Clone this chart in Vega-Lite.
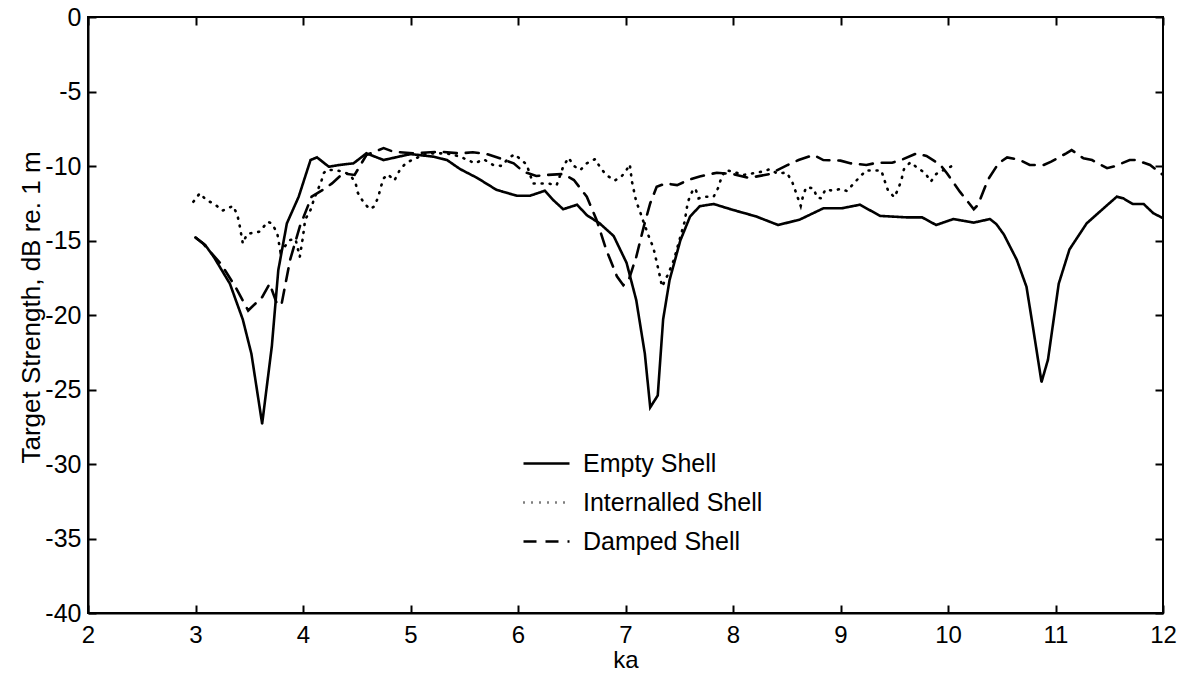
{
  "$schema": "https://vega.github.io/schema/vega-lite/v6.json",
  "autosize": {"type": "none"},
  "padding": {"left": 88, "top": 17, "right": 24, "bottom": 62},
  "width": 1075,
  "height": 596,
  "background": "white",
  "config": {
    "font": "Liberation Sans",
    "view": {"stroke": "black", "strokeWidth": 2},
    "axis": {"labelFont": "Liberation Sans", "titleFont": "Liberation Sans", "labelColor": "black", "titleColor": "black", "domainColor": "black", "tickColor": "black", "grid": false}
  },
  "datasets": {
    "curves": [
      {"ka": 3.0, "ts": -14.8, "s": "Empty Shell"},
      {"ka": 3.09, "ts": -15.3, "s": "Empty Shell"},
      {"ka": 3.17, "ts": -16.1, "s": "Empty Shell"},
      {"ka": 3.32, "ts": -17.9, "s": "Empty Shell"},
      {"ka": 3.44, "ts": -20.3, "s": "Empty Shell"},
      {"ka": 3.52, "ts": -22.6, "s": "Empty Shell"},
      {"ka": 3.62, "ts": -27.3, "s": "Empty Shell"},
      {"ka": 3.71, "ts": -22.1, "s": "Empty Shell"},
      {"ka": 3.77, "ts": -17.0, "s": "Empty Shell"},
      {"ka": 3.85, "ts": -13.85, "s": "Empty Shell"},
      {"ka": 3.96, "ts": -12.06, "s": "Empty Shell"},
      {"ka": 4.07, "ts": -9.6, "s": "Empty Shell"},
      {"ka": 4.13, "ts": -9.42, "s": "Empty Shell"},
      {"ka": 4.24, "ts": -10.05, "s": "Empty Shell"},
      {"ka": 4.34, "ts": -9.93, "s": "Empty Shell"},
      {"ka": 4.47, "ts": -9.82, "s": "Empty Shell"},
      {"ka": 4.59, "ts": -9.15, "s": "Empty Shell"},
      {"ka": 4.75, "ts": -9.6, "s": "Empty Shell"},
      {"ka": 5.0, "ts": -9.2, "s": "Empty Shell"},
      {"ka": 5.21, "ts": -9.37, "s": "Empty Shell"},
      {"ka": 5.34, "ts": -9.6, "s": "Empty Shell"},
      {"ka": 5.46, "ts": -10.2, "s": "Empty Shell"},
      {"ka": 5.62, "ts": -10.8, "s": "Empty Shell"},
      {"ka": 5.8, "ts": -11.6, "s": "Empty Shell"},
      {"ka": 5.99, "ts": -12.0, "s": "Empty Shell"},
      {"ka": 6.11, "ts": -12.0, "s": "Empty Shell"},
      {"ka": 6.25, "ts": -11.66, "s": "Empty Shell"},
      {"ka": 6.33, "ts": -12.3, "s": "Empty Shell"},
      {"ka": 6.42, "ts": -12.9, "s": "Empty Shell"},
      {"ka": 6.55, "ts": -12.6, "s": "Empty Shell"},
      {"ka": 6.64, "ts": -13.3, "s": "Empty Shell"},
      {"ka": 6.76, "ts": -13.85, "s": "Empty Shell"},
      {"ka": 6.89, "ts": -14.7, "s": "Empty Shell"},
      {"ka": 7.01, "ts": -16.5, "s": "Empty Shell"},
      {"ka": 7.1, "ts": -19.0, "s": "Empty Shell"},
      {"ka": 7.18, "ts": -22.6, "s": "Empty Shell"},
      {"ka": 7.23, "ts": -26.2, "s": "Empty Shell"},
      {"ka": 7.3, "ts": -25.4, "s": "Empty Shell"},
      {"ka": 7.35, "ts": -20.3, "s": "Empty Shell"},
      {"ka": 7.41, "ts": -17.65, "s": "Empty Shell"},
      {"ka": 7.51, "ts": -15.0, "s": "Empty Shell"},
      {"ka": 7.6, "ts": -13.4, "s": "Empty Shell"},
      {"ka": 7.69, "ts": -12.7, "s": "Empty Shell"},
      {"ka": 7.82, "ts": -12.55, "s": "Empty Shell"},
      {"ka": 8.0, "ts": -12.95, "s": "Empty Shell"},
      {"ka": 8.1, "ts": -13.15, "s": "Empty Shell"},
      {"ka": 8.22, "ts": -13.4, "s": "Empty Shell"},
      {"ka": 8.42, "ts": -13.96, "s": "Empty Shell"},
      {"ka": 8.62, "ts": -13.6, "s": "Empty Shell"},
      {"ka": 8.84, "ts": -12.84, "s": "Empty Shell"},
      {"ka": 9.01, "ts": -12.84, "s": "Empty Shell"},
      {"ka": 9.18, "ts": -12.6, "s": "Empty Shell"},
      {"ka": 9.37, "ts": -13.35, "s": "Empty Shell"},
      {"ka": 9.62, "ts": -13.45, "s": "Empty Shell"},
      {"ka": 9.76, "ts": -13.45, "s": "Empty Shell"},
      {"ka": 9.89, "ts": -13.96, "s": "Empty Shell"},
      {"ka": 10.05, "ts": -13.56, "s": "Empty Shell"},
      {"ka": 10.24, "ts": -13.8, "s": "Empty Shell"},
      {"ka": 10.39, "ts": -13.56, "s": "Empty Shell"},
      {"ka": 10.45, "ts": -13.9, "s": "Empty Shell"},
      {"ka": 10.52, "ts": -14.6, "s": "Empty Shell"},
      {"ka": 10.64, "ts": -16.3, "s": "Empty Shell"},
      {"ka": 10.73, "ts": -18.1, "s": "Empty Shell"},
      {"ka": 10.79, "ts": -20.8, "s": "Empty Shell"},
      {"ka": 10.87, "ts": -24.5, "s": "Empty Shell"},
      {"ka": 10.93, "ts": -23.0, "s": "Empty Shell"},
      {"ka": 11.03, "ts": -17.9, "s": "Empty Shell"},
      {"ka": 11.13, "ts": -15.6, "s": "Empty Shell"},
      {"ka": 11.29, "ts": -13.85, "s": "Empty Shell"},
      {"ka": 11.43, "ts": -12.95, "s": "Empty Shell"},
      {"ka": 11.57, "ts": -12.06, "s": "Empty Shell"},
      {"ka": 11.63, "ts": -12.17, "s": "Empty Shell"},
      {"ka": 11.72, "ts": -12.55, "s": "Empty Shell"},
      {"ka": 11.82, "ts": -12.55, "s": "Empty Shell"},
      {"ka": 11.91, "ts": -13.17, "s": "Empty Shell"},
      {"ka": 12.0, "ts": -13.5, "s": "Empty Shell"},

      {"ka": 2.98, "ts": -12.4, "s": "Internalled Shell"},
      {"ka": 3.04, "ts": -11.83, "s": "Internalled Shell"},
      {"ka": 3.1, "ts": -12.28, "s": "Internalled Shell"},
      {"ka": 3.18, "ts": -12.57, "s": "Internalled Shell"},
      {"ka": 3.25, "ts": -13.0, "s": "Internalled Shell"},
      {"ka": 3.35, "ts": -12.68, "s": "Internalled Shell"},
      {"ka": 3.39, "ts": -13.3, "s": "Internalled Shell"},
      {"ka": 3.41, "ts": -13.96, "s": "Internalled Shell"},
      {"ka": 3.44, "ts": -15.2, "s": "Internalled Shell"},
      {"ka": 3.48, "ts": -14.56, "s": "Internalled Shell"},
      {"ka": 3.6, "ts": -14.4, "s": "Internalled Shell"},
      {"ka": 3.67, "ts": -13.74, "s": "Internalled Shell"},
      {"ka": 3.71, "ts": -13.85, "s": "Internalled Shell"},
      {"ka": 3.76, "ts": -14.5, "s": "Internalled Shell"},
      {"ka": 3.79, "ts": -15.75, "s": "Internalled Shell"},
      {"ka": 3.83, "ts": -15.4, "s": "Internalled Shell"},
      {"ka": 3.88, "ts": -14.97, "s": "Internalled Shell"},
      {"ka": 3.93, "ts": -14.9, "s": "Internalled Shell"},
      {"ka": 3.97, "ts": -16.1, "s": "Internalled Shell"},
      {"ka": 4.0, "ts": -14.74, "s": "Internalled Shell"},
      {"ka": 4.02, "ts": -13.6, "s": "Internalled Shell"},
      {"ka": 4.07, "ts": -12.95, "s": "Internalled Shell"},
      {"ka": 4.1, "ts": -12.28, "s": "Internalled Shell"},
      {"ka": 4.13, "ts": -11.72, "s": "Internalled Shell"},
      {"ka": 4.17, "ts": -11.05, "s": "Internalled Shell"},
      {"ka": 4.19, "ts": -10.5, "s": "Internalled Shell"},
      {"ka": 4.22, "ts": -10.27, "s": "Internalled Shell"},
      {"ka": 4.3, "ts": -10.27, "s": "Internalled Shell"},
      {"ka": 4.37, "ts": -10.38, "s": "Internalled Shell"},
      {"ka": 4.44, "ts": -10.6, "s": "Internalled Shell"},
      {"ka": 4.49, "ts": -11.17, "s": "Internalled Shell"},
      {"ka": 4.51, "ts": -11.8, "s": "Internalled Shell"},
      {"ka": 4.56, "ts": -12.4, "s": "Internalled Shell"},
      {"ka": 4.62, "ts": -12.9, "s": "Internalled Shell"},
      {"ka": 4.66, "ts": -12.73, "s": "Internalled Shell"},
      {"ka": 4.7, "ts": -12.1, "s": "Internalled Shell"},
      {"ka": 4.72, "ts": -11.5, "s": "Internalled Shell"},
      {"ka": 4.75, "ts": -10.83, "s": "Internalled Shell"},
      {"ka": 4.79, "ts": -10.56, "s": "Internalled Shell"},
      {"ka": 4.85, "ts": -10.98, "s": "Internalled Shell"},
      {"ka": 4.9, "ts": -10.27, "s": "Internalled Shell"},
      {"ka": 4.96, "ts": -9.78, "s": "Internalled Shell"},
      {"ka": 5.03, "ts": -9.55, "s": "Internalled Shell"},
      {"ka": 5.15, "ts": -9.15, "s": "Internalled Shell"},
      {"ka": 5.34, "ts": -9.15, "s": "Internalled Shell"},
      {"ka": 5.46, "ts": -9.37, "s": "Internalled Shell"},
      {"ka": 5.6, "ts": -9.82, "s": "Internalled Shell"},
      {"ka": 5.68, "ts": -9.55, "s": "Internalled Shell"},
      {"ka": 5.77, "ts": -9.93, "s": "Internalled Shell"},
      {"ka": 5.85, "ts": -10.0, "s": "Internalled Shell"},
      {"ka": 5.91, "ts": -9.48, "s": "Internalled Shell"},
      {"ka": 5.97, "ts": -9.21, "s": "Internalled Shell"},
      {"ka": 6.03, "ts": -9.6, "s": "Internalled Shell"},
      {"ka": 6.08, "ts": -9.89, "s": "Internalled Shell"},
      {"ka": 6.14, "ts": -11.17, "s": "Internalled Shell"},
      {"ka": 6.22, "ts": -11.17, "s": "Internalled Shell"},
      {"ka": 6.28, "ts": -11.17, "s": "Internalled Shell"},
      {"ka": 6.36, "ts": -11.28, "s": "Internalled Shell"},
      {"ka": 6.42, "ts": -10.05, "s": "Internalled Shell"},
      {"ka": 6.47, "ts": -9.44, "s": "Internalled Shell"},
      {"ka": 6.52, "ts": -10.0, "s": "Internalled Shell"},
      {"ka": 6.58, "ts": -10.27, "s": "Internalled Shell"},
      {"ka": 6.64, "ts": -9.82, "s": "Internalled Shell"},
      {"ka": 6.72, "ts": -9.53, "s": "Internalled Shell"},
      {"ka": 6.76, "ts": -10.05, "s": "Internalled Shell"},
      {"ka": 6.82, "ts": -10.6, "s": "Internalled Shell"},
      {"ka": 6.9, "ts": -10.98, "s": "Internalled Shell"},
      {"ka": 6.96, "ts": -10.72, "s": "Internalled Shell"},
      {"ka": 7.0, "ts": -10.38, "s": "Internalled Shell"},
      {"ka": 7.04, "ts": -9.89, "s": "Internalled Shell"},
      {"ka": 7.06, "ts": -11.05, "s": "Internalled Shell"},
      {"ka": 7.08, "ts": -11.72, "s": "Internalled Shell"},
      {"ka": 7.1, "ts": -12.4, "s": "Internalled Shell"},
      {"ka": 7.13, "ts": -12.95, "s": "Internalled Shell"},
      {"ka": 7.16, "ts": -13.6, "s": "Internalled Shell"},
      {"ka": 7.22, "ts": -14.79, "s": "Internalled Shell"},
      {"ka": 7.26, "ts": -15.5, "s": "Internalled Shell"},
      {"ka": 7.3, "ts": -16.76, "s": "Internalled Shell"},
      {"ka": 7.32, "ts": -17.4, "s": "Internalled Shell"},
      {"ka": 7.34, "ts": -18.1, "s": "Internalled Shell"},
      {"ka": 7.4, "ts": -17.2, "s": "Internalled Shell"},
      {"ka": 7.45, "ts": -16.3, "s": "Internalled Shell"},
      {"ka": 7.55, "ts": -13.74, "s": "Internalled Shell"},
      {"ka": 7.58, "ts": -12.4, "s": "Internalled Shell"},
      {"ka": 7.62, "ts": -11.72, "s": "Internalled Shell"},
      {"ka": 7.65, "ts": -11.5, "s": "Internalled Shell"},
      {"ka": 7.68, "ts": -12.17, "s": "Internalled Shell"},
      {"ka": 7.74, "ts": -12.06, "s": "Internalled Shell"},
      {"ka": 7.82, "ts": -12.06, "s": "Internalled Shell"},
      {"ka": 7.86, "ts": -11.5, "s": "Internalled Shell"},
      {"ka": 7.89, "ts": -10.83, "s": "Internalled Shell"},
      {"ka": 7.93, "ts": -10.27, "s": "Internalled Shell"},
      {"ka": 8.0, "ts": -10.38, "s": "Internalled Shell"},
      {"ka": 8.1, "ts": -10.6, "s": "Internalled Shell"},
      {"ka": 8.27, "ts": -10.38, "s": "Internalled Shell"},
      {"ka": 8.34, "ts": -10.22, "s": "Internalled Shell"},
      {"ka": 8.41, "ts": -10.49, "s": "Internalled Shell"},
      {"ka": 8.5, "ts": -10.45, "s": "Internalled Shell"},
      {"ka": 8.55, "ts": -11.05, "s": "Internalled Shell"},
      {"ka": 8.58, "ts": -11.66, "s": "Internalled Shell"},
      {"ka": 8.61, "ts": -12.28, "s": "Internalled Shell"},
      {"ka": 8.63, "ts": -12.68, "s": "Internalled Shell"},
      {"ka": 8.65, "ts": -12.06, "s": "Internalled Shell"},
      {"ka": 8.68, "ts": -11.43, "s": "Internalled Shell"},
      {"ka": 8.75, "ts": -11.5, "s": "Internalled Shell"},
      {"ka": 8.78, "ts": -12.1, "s": "Internalled Shell"},
      {"ka": 8.82, "ts": -12.17, "s": "Internalled Shell"},
      {"ka": 8.86, "ts": -11.57, "s": "Internalled Shell"},
      {"ka": 8.93, "ts": -11.66, "s": "Internalled Shell"},
      {"ka": 9.0, "ts": -11.54, "s": "Internalled Shell"},
      {"ka": 9.06, "ts": -11.68, "s": "Internalled Shell"},
      {"ka": 9.12, "ts": -11.2, "s": "Internalled Shell"},
      {"ka": 9.18, "ts": -10.72, "s": "Internalled Shell"},
      {"ka": 9.24, "ts": -10.3, "s": "Internalled Shell"},
      {"ka": 9.38, "ts": -10.3, "s": "Internalled Shell"},
      {"ka": 9.41, "ts": -10.98, "s": "Internalled Shell"},
      {"ka": 9.44, "ts": -11.6, "s": "Internalled Shell"},
      {"ka": 9.5, "ts": -12.1, "s": "Internalled Shell"},
      {"ka": 9.54, "ts": -11.5, "s": "Internalled Shell"},
      {"ka": 9.57, "ts": -10.83, "s": "Internalled Shell"},
      {"ka": 9.59, "ts": -10.22, "s": "Internalled Shell"},
      {"ka": 9.65, "ts": -9.75, "s": "Internalled Shell"},
      {"ka": 9.71, "ts": -10.09, "s": "Internalled Shell"},
      {"ka": 9.79, "ts": -10.49, "s": "Internalled Shell"},
      {"ka": 9.84, "ts": -11.05, "s": "Internalled Shell"},
      {"ka": 9.89, "ts": -10.54, "s": "Internalled Shell"},
      {"ka": 9.97, "ts": -10.22, "s": "Internalled Shell"},
      {"ka": 10.06, "ts": -9.93, "s": "Internalled Shell"},

      {"ka": 3.0, "ts": -14.8, "s": "Damped Shell"},
      {"ka": 3.07, "ts": -15.2, "s": "Damped Shell"},
      {"ka": 3.24, "ts": -16.6, "s": "Damped Shell"},
      {"ka": 3.37, "ts": -18.1, "s": "Damped Shell"},
      {"ka": 3.49, "ts": -19.7, "s": "Damped Shell"},
      {"ka": 3.62, "ts": -18.8, "s": "Damped Shell"},
      {"ka": 3.69, "ts": -17.9, "s": "Damped Shell"},
      {"ka": 3.76, "ts": -19.3, "s": "Damped Shell"},
      {"ka": 3.8, "ts": -19.3, "s": "Damped Shell"},
      {"ka": 3.88, "ts": -16.3, "s": "Damped Shell"},
      {"ka": 3.97, "ts": -14.07, "s": "Damped Shell"},
      {"ka": 4.08, "ts": -12.06, "s": "Damped Shell"},
      {"ka": 4.19, "ts": -11.57, "s": "Damped Shell"},
      {"ka": 4.27, "ts": -11.17, "s": "Damped Shell"},
      {"ka": 4.37, "ts": -10.5, "s": "Damped Shell"},
      {"ka": 4.48, "ts": -10.6, "s": "Damped Shell"},
      {"ka": 4.59, "ts": -9.26, "s": "Damped Shell"},
      {"ka": 4.75, "ts": -8.8, "s": "Damped Shell"},
      {"ka": 4.84, "ts": -9.04, "s": "Damped Shell"},
      {"ka": 5.03, "ts": -9.15, "s": "Damped Shell"},
      {"ka": 5.27, "ts": -9.04, "s": "Damped Shell"},
      {"ka": 5.46, "ts": -9.15, "s": "Damped Shell"},
      {"ka": 5.58, "ts": -9.08, "s": "Damped Shell"},
      {"ka": 5.71, "ts": -9.2, "s": "Damped Shell"},
      {"ka": 5.83, "ts": -9.48, "s": "Damped Shell"},
      {"ka": 5.96, "ts": -9.82, "s": "Damped Shell"},
      {"ka": 6.05, "ts": -10.38, "s": "Damped Shell"},
      {"ka": 6.17, "ts": -10.67, "s": "Damped Shell"},
      {"ka": 6.27, "ts": -10.6, "s": "Damped Shell"},
      {"ka": 6.42, "ts": -10.54, "s": "Damped Shell"},
      {"ka": 6.52, "ts": -10.94, "s": "Damped Shell"},
      {"ka": 6.64, "ts": -12.06, "s": "Damped Shell"},
      {"ka": 6.73, "ts": -13.6, "s": "Damped Shell"},
      {"ka": 6.82, "ts": -15.6, "s": "Damped Shell"},
      {"ka": 6.92, "ts": -17.4, "s": "Damped Shell"},
      {"ka": 6.98, "ts": -18.0, "s": "Damped Shell"},
      {"ka": 7.03, "ts": -17.65, "s": "Damped Shell"},
      {"ka": 7.1, "ts": -16.1, "s": "Damped Shell"},
      {"ka": 7.17, "ts": -14.07, "s": "Damped Shell"},
      {"ka": 7.23, "ts": -12.5, "s": "Damped Shell"},
      {"ka": 7.29, "ts": -11.4, "s": "Damped Shell"},
      {"ka": 7.37, "ts": -11.17, "s": "Damped Shell"},
      {"ka": 7.48, "ts": -11.28, "s": "Damped Shell"},
      {"ka": 7.6, "ts": -10.9, "s": "Damped Shell"},
      {"ka": 7.69, "ts": -10.7, "s": "Damped Shell"},
      {"ka": 7.85, "ts": -10.45, "s": "Damped Shell"},
      {"ka": 8.0, "ts": -10.54, "s": "Damped Shell"},
      {"ka": 8.15, "ts": -10.8, "s": "Damped Shell"},
      {"ka": 8.34, "ts": -10.54, "s": "Damped Shell"},
      {"ka": 8.51, "ts": -9.93, "s": "Damped Shell"},
      {"ka": 8.61, "ts": -9.6, "s": "Damped Shell"},
      {"ka": 8.75, "ts": -9.26, "s": "Damped Shell"},
      {"ka": 8.84, "ts": -9.6, "s": "Damped Shell"},
      {"ka": 9.0, "ts": -9.64, "s": "Damped Shell"},
      {"ka": 9.09, "ts": -9.82, "s": "Damped Shell"},
      {"ka": 9.24, "ts": -9.93, "s": "Damped Shell"},
      {"ka": 9.34, "ts": -9.78, "s": "Damped Shell"},
      {"ka": 9.48, "ts": -9.78, "s": "Damped Shell"},
      {"ka": 9.58, "ts": -9.55, "s": "Damped Shell"},
      {"ka": 9.71, "ts": -9.15, "s": "Damped Shell"},
      {"ka": 9.8, "ts": -9.33, "s": "Damped Shell"},
      {"ka": 9.93, "ts": -9.93, "s": "Damped Shell"},
      {"ka": 9.99, "ts": -10.49, "s": "Damped Shell"},
      {"ka": 10.11, "ts": -11.72, "s": "Damped Shell"},
      {"ka": 10.24, "ts": -12.9, "s": "Damped Shell"},
      {"ka": 10.28, "ts": -12.6, "s": "Damped Shell"},
      {"ka": 10.37, "ts": -10.94, "s": "Damped Shell"},
      {"ka": 10.47, "ts": -9.82, "s": "Damped Shell"},
      {"ka": 10.55, "ts": -9.42, "s": "Damped Shell"},
      {"ka": 10.67, "ts": -9.6, "s": "Damped Shell"},
      {"ka": 10.76, "ts": -9.93, "s": "Damped Shell"},
      {"ka": 10.89, "ts": -9.93, "s": "Damped Shell"},
      {"ka": 10.96, "ts": -9.71, "s": "Damped Shell"},
      {"ka": 11.1, "ts": -9.15, "s": "Damped Shell"},
      {"ka": 11.15, "ts": -8.93, "s": "Damped Shell"},
      {"ka": 11.26, "ts": -9.48, "s": "Damped Shell"},
      {"ka": 11.34, "ts": -9.6, "s": "Damped Shell"},
      {"ka": 11.48, "ts": -10.15, "s": "Damped Shell"},
      {"ka": 11.54, "ts": -10.04, "s": "Damped Shell"},
      {"ka": 11.69, "ts": -9.6, "s": "Damped Shell"},
      {"ka": 11.75, "ts": -9.6, "s": "Damped Shell"},
      {"ka": 11.88, "ts": -9.93, "s": "Damped Shell"},
      {"ka": 11.96, "ts": -10.38, "s": "Damped Shell"},
      {"ka": 12.0, "ts": -10.6, "s": "Damped Shell"}
    ]
  },
  "data": {"name": "curves"},
  "resolve": {"axis": {"x": "independent", "y": "independent"}},
  "layer": [
    {
      "mark": {"type": "line", "color": "black", "strokeWidth": 2.6, "strokeCap": "round", "clip": true},
      "encoding": {
        "x": {"field": "ka", "type": "quantitative", "scale": {"domain": [2, 12], "nice": false, "zero": false},
          "axis": {"title": "ka", "values": [2,3,4,5,6,7,8,9,10,11,12], "labelExpr": "'' + datum.value", "labelFontSize": 24, "titleFontSize": 24, "titleFontWeight": "normal", "tickSize": -8, "tickWidth": 2, "domainWidth": 2, "labelPadding": 18, "titlePadding": 1, "labelFlush": false}},
        "y": {"field": "ts", "type": "quantitative", "scale": {"domain": [-40, 0], "nice": false, "zero": false},
          "axis": {"title": "Target Strength, dB re. 1 m", "values": [-40,-35,-30,-25,-20,-15,-10,-5,0], "labelExpr": "'' + datum.value", "labelFontSize": 25, "titleFontSize": 26, "titleFontWeight": "normal", "tickSize": -8, "tickWidth": 2, "domainWidth": 2, "labelPadding": 15, "titleX": -44, "titleY": 290, "labelFlush": false}},
        "detail": {"field": "s"},
        "strokeDash": {"field": "s", "type": "nominal",
          "scale": {"domain": ["Empty Shell", "Internalled Shell", "Damped Shell"], "range": [[1, 0], [1, 7], [13, 9]]},
          "legend": {"title": null, "orient": "none", "legendX": 434, "legendY": 422, "labelFontSize": 25, "labelColor": "black", "labelLimit": 400, "symbolType": "stroke", "symbolSize": 2116, "symbolStrokeWidth": 2.6, "symbolStrokeColor": "black", "labelOffset": 12, "rowPadding": 1, "padding": 0}}
      }
    },
    {
      "mark": {"type": "line", "opacity": 0},
      "encoding": {
        "x": {"field": "ka", "type": "quantitative", "scale": {"domain": [2, 12], "nice": false, "zero": false},
          "axis": {"orient": "top", "title": null, "labels": false, "domain": false, "values": [2,3,4,5,6,7,8,9,10,11,12], "tickSize": -8, "tickWidth": 2}},
        "y": {"field": "ts", "type": "quantitative", "scale": {"domain": [-40, 0], "nice": false, "zero": false},
          "axis": {"orient": "right", "title": null, "labels": false, "domain": false, "values": [-40,-35,-30,-25,-20,-15,-10,-5,0], "tickSize": -8, "tickWidth": 2}},
        "detail": {"field": "s"}
      }
    }
  ]
}
